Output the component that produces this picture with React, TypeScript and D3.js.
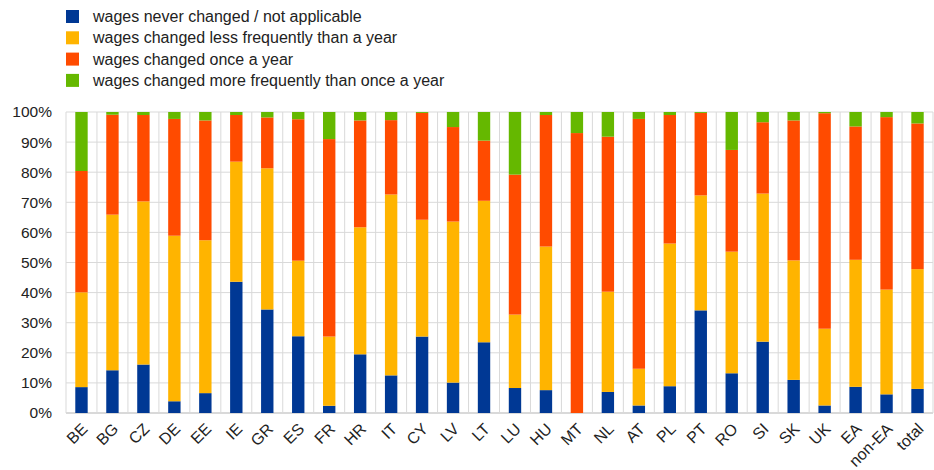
import React from 'react';
import * as d3 from 'd3';

const categories = ['BE', 'BG', 'CZ', 'DE', 'EE', 'IE', 'GR', 'ES', 'FR', 'HR', 'IT', 'CY', 'LV', 'LT', 'LU', 'HU', 'MT', 'NL', 'AT', 'PL', 'PT', 'RO', 'SI', 'SK', 'UK', 'EA', 'non-EA', 'total'];

// shares in percent
const neverChanged = [8.6, 14.2, 16.1, 3.9, 6.6, 43.6, 34.4, 25.5, 2.4, 19.5, 12.5, 25.4, 10.1, 23.5, 8.3, 7.6, 0, 7.0, 2.5, 8.9, 34.1, 13.2, 23.7, 11.0, 2.5, 8.7, 6.2, 8.0];
const lessFrequent = [31.5, 51.7, 54.2, 55.0, 50.8, 39.9, 46.9, 25.1, 23.0, 42.2, 60.1, 38.8, 53.5, 47.0, 24.4, 47.7, 0, 33.3, 12.2, 47.4, 38.2, 40.4, 49.2, 39.7, 25.5, 42.2, 34.8, 39.8];
const onceAYear = [40.3, 33.2, 28.7, 38.8, 39.8, 15.5, 16.9, 47.0, 65.6, 35.5, 24.7, 35.5, 31.4, 20.0, 46.5, 43.7, 93.0, 51.5, 83.0, 42.7, 27.4, 33.8, 23.7, 46.5, 71.6, 44.3, 57.3, 48.4];
const moreFrequent = [19.6, 0.9, 1.0, 2.3, 2.8, 1.0, 1.8, 2.4, 9.0, 2.8, 2.7, 0.3, 5.0, 9.5, 20.8, 1.0, 7.0, 8.2, 2.3, 1.0, 0.3, 12.6, 3.4, 2.8, 0.4, 4.8, 1.7, 3.8];

const seriesNames = [
  'wages never changed / not applicable',
  'wages changed less frequently than a year',
  'wages changed once a year',
  'wages changed more frequently than once a year',
];
const seriesColors = ['#003894', '#FFB400', '#FF4B00', '#65B800'];
const yTicks = [0, 10, 20, 30, 40, 50, 60, 70, 80, 90, 100];

const W = 934;
const H = 470;
const margin = { top: 112, right: 1, bottom: 57, left: 66 };
const FONT = 'Liberation Sans, Arial, sans-serif';

export default function App() {
  const rows = categories.map((c, i) => ({
    cat: c,
    s0: neverChanged[i],
    s1: lessFrequent[i],
    s2: onceAYear[i],
    s3: moreFrequent[i],
  }));
  const keys = ['s0', 's1', 's2', 's3'];
  const stacked = d3.stack<any>().keys(keys)(rows);

  const x = d3.scaleBand<string>()
    .domain(categories)
    .range([margin.left, W - margin.right])
    .paddingInner(0.6)
    .paddingOuter(0.3);
  const y = d3.scaleLinear().domain([0, 100]).range([H - margin.bottom, margin.top]);

  const step = x.step();
  const start = x.range()[0];
  const vLines = d3.range(categories.length + 1).map(i => start + i * step);

  return (
    <svg width={W} height={H} style={{ position: 'absolute', left: 0, top: 0, background: '#fff' }} fontFamily={FONT}>
      {/* legend */}
      {seriesNames.map((name, i) => (
        <g key={name} transform={`translate(66, ${10 + i * 21.3})`}>
          <rect x={0} y={0} width={13} height={13} fill={seriesColors[i]} />
          <text x={27} y={6.5} dy="0.35em" fontSize={16} fill="#222">{name}</text>
        </g>
      ))}

      {/* gridlines */}
      {yTicks.map(t => (
        <line key={`h${t}`} x1={start} x2={W - margin.right} y1={y(t)} y2={y(t)} stroke="#d9d9d9" strokeWidth={1} />
      ))}
      {vLines.map((vx, i) => (
        <line key={`v${i}`} x1={vx} x2={vx} y1={y(100)} y2={y(0)} stroke="#d9d9d9" strokeWidth={1} />
      ))}
      <line x1={start} x2={W - margin.right} y1={y(0)} y2={y(0)} stroke="#d9d9d9" strokeWidth={2} />

      {/* bars */}
      {stacked.map((layer, si) => (
        <g key={layer.key} fill={seriesColors[si]}>
          {layer.map((d: any, i: number) => (
            <rect
              key={i}
              x={x(categories[i])}
              width={x.bandwidth()}
              y={y(d[1])}
              height={Math.max(0, y(d[0]) - y(d[1]))}
            />
          ))}
        </g>
      ))}

      {/* y axis labels */}
      {yTicks.map(t => (
        <text key={`yl${t}`} x={52} y={y(t)} dy="0.35em" textAnchor="end" fontSize={15.5} fill="#222">{`${t}%`}</text>
      ))}

      {/* x axis labels */}
      {categories.map(c => {
        const cx = (x(c) as number) + x.bandwidth() / 2 + 3;
        const cy = y(0) + 13;
        return (
          <text key={`xl${c}`} transform={`translate(${cx},${cy}) rotate(-45)`} textAnchor="end" dy="0.35em" fontSize={16} fill="#222">{c}</text>
        );
      })}
    </svg>
  );
}
